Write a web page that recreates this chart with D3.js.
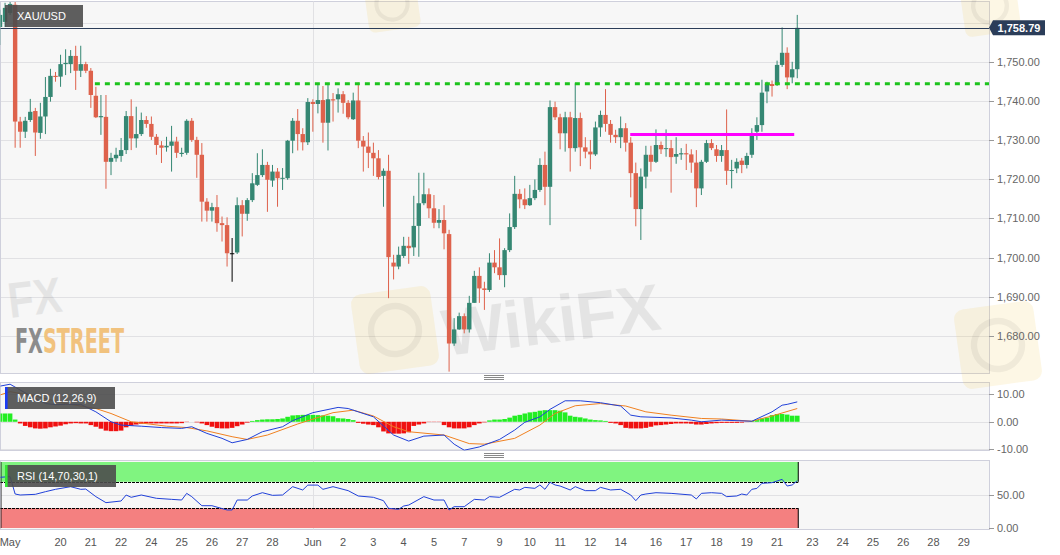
<!DOCTYPE html>
<html><head><meta charset="utf-8">
<script src="https://cdn.jsdelivr.net/npm/d3@7"></script>
<style>
html,body{margin:0;padding:0;background:#fff;}
svg{display:block;font-family:"Liberation Sans",Arial,sans-serif;}
</style></head><body>
<svg id="chart" width="1060" height="555"></svg>
<script>
// ---------------- DATA ----------------
const symbol = "XAU/USD";
const opens = [1759.0,1760.3,1762.6,1764.7,1734.8,1732.2,1735.2,1737.5,1731.9,1736.1,1741.1,1746.5,1746.3,1749.5,1749.5,1751.6,1747.8,1749.5,1747.8,1741.4,
1735.9,1736.0,1724.5,1725.4,1726.0,1727.5,1736.2,1730.5,1731.6,1735.2,1734.2,1730.9,1728.7,1728.2,1728.6,1729.7,1726.5,1726.8,1735.0,1730.1,
1726.3,1714.3,1712.0,1712.9,1708.8,1708.3,1701.1,1701.3,1713.4,1711.2,1714.7,1718.6,1721.1,1723.7,1719.7,1722.0,1720.3,1720.3,1729.9,1735.0,
1731.6,1729.5,1739.8,1739.3,1740.3,1734.5,1740.5,1740.5,1741.8,1739.6,1735.4,1740.2,1729.9,1728.4,1726.8,1725.4,1720.9,1722.2,1698.7,1697.7,
1700.4,1703.0,1702.6,1708.1,1713.9,1716.2,1712.6,1708.9,1709.6,1706.0,1678.0,1681.6,1685.0,1681.6,1688.4,1695.3,1692.1,1691.7,1698.7,1697.5,
1695.5,1701.9,1707.8,1716.3,1714.9,1713.4,1715.2,1717.3,1723.7,1718.1,1738.5,1735.9,1731.8,1735.9,1728.0,1735.7,1728.2,1727.1,1726.4,1733.3,
1736.5,1734.2,1731.4,1730.8,1733.1,1729.4,1721.6,1712.4,1720.7,1726.3,1724.5,1728.8,1727.8,1728.0,1725.8,1726.4,1726.7,1726.4,1724.3,1717.7,
1724.5,1729.3,1727.7,1726.0,1727.5,1722.2,1722.8,1724.8,1723.7,1726.3,1732.2,1733.9,1742.5,1744.4,1744.4,1749.3,1752.4,1746.1,1748.2];
const highs = [1763.4,1765.2,1765.4,1765.4,1736.0,1736.0,1740.6,1738.3,1739.6,1746.2,1748.3,1747.5,1751.9,1753.3,1753.1,1754.2,1754.2,1750.1,1748.5,1743.7,
1741.6,1741.6,1726.8,1728.1,1730.6,1737.5,1740.5,1738.6,1737.1,1736.2,1736.1,1731.6,1729.8,1730.9,1733.7,1730.9,1728.1,1735.4,1735.7,1730.9,
1729.3,1715.2,1714.0,1716.0,1710.5,1710.3,1705.0,1715.4,1714.7,1715.2,1721.6,1726.7,1727.7,1724.5,1723.7,1722.9,1722.9,1730.1,1735.7,1738.0,
1733.1,1740.8,1740.5,1744.6,1743.9,1744.4,1742.1,1743.3,1742.6,1740.3,1742.2,1744.8,1731.1,1732.0,1729.4,1727.5,1722.8,1726.3,1700.7,1702.8,
1705.3,1705.3,1715.8,1721.7,1721.7,1717.7,1716.0,1712.4,1713.4,1707.1,1684.5,1685.9,1685.7,1690.2,1696.6,1697.5,1693.8,1701.1,1701.9,1704.9,
1702.4,1711.3,1720.9,1717.5,1717.7,1718.6,1720.0,1725.4,1727.1,1740.2,1739.9,1736.8,1737.3,1737.3,1744.6,1737.1,1730.8,1730.1,1734.8,1737.6,
1743.1,1735.2,1732.7,1736.1,1734.4,1730.8,1724.3,1722.8,1728.6,1728.6,1732.8,1729.7,1732.8,1730.1,1730.8,1728.0,1729.1,1727.7,1727.5,1725.0,
1730.1,1730.3,1728.8,1728.8,1737.9,1725.0,1725.4,1725.5,1726.8,1733.1,1735.9,1745.5,1745.0,1745.3,1750.4,1758.9,1753.8,1750.1,1762.1];
const lows = [1754.4,1759.0,1762.1,1728.1,1728.1,1730.6,1734.7,1726.0,1730.4,1731.6,1739.9,1745.0,1743.7,1746.7,1747.2,1742.9,1746.2,1747.2,1738.3,1735.7,
1731.4,1717.6,1721.1,1724.5,1724.5,1726.5,1727.5,1728.1,1731.1,1733.2,1730.1,1726.3,1724.2,1727.1,1722.0,1725.5,1725.8,1726.3,1729.6,1720.4,
1709.2,1709.2,1709.2,1706.6,1704.1,1697.7,1693.8,1700.9,1705.4,1709.4,1714.2,1718.3,1720.6,1711.7,1718.1,1713.0,1717.3,1719.9,1726.7,1727.4,
1727.4,1728.8,1732.2,1736.9,1729.4,1727.4,1734.8,1737.1,1736.8,1735.4,1735.2,1728.0,1722.0,1722.9,1720.9,1720.0,1713.0,1689.6,1694.4,1697.0,
1699.9,1698.4,1700.4,1700.2,1713.4,1710.1,1707.5,1707.5,1702.1,1670.8,1677.4,1681.5,1680.6,1680.8,1688.4,1688.4,1686.6,1691.2,1696.0,1694.3,
1692.4,1701.4,1707.3,1712.6,1712.4,1713.2,1714.7,1716.8,1713.4,1708.3,1735.2,1727.7,1727.1,1722.0,1727.1,1723.4,1725.4,1722.6,1726.0,1730.9,
1732.2,1729.4,1729.3,1728.0,1727.1,1715.4,1708.0,1704.5,1717.7,1722.0,1724.2,1726.5,1725.8,1716.6,1724.0,1725.0,1722.4,1721.7,1712.9,1716.0,
1724.2,1727.5,1724.5,1724.5,1718.6,1717.7,1721.6,1721.6,1722.8,1725.5,1730.1,1732.2,1739.5,1741.2,1743.9,1748.8,1743.1,1744.6,1745.9];
const closes = [1762.1,1763.9,1764.9,1734.8,1732.2,1735.0,1737.3,1732.0,1736.1,1741.1,1746.5,1746.2,1749.5,1749.8,1751.6,1747.8,1749.5,1747.8,1741.6,1735.9,
1736.2,1724.5,1725.5,1726.3,1727.5,1736.2,1730.5,1731.6,1735.2,1734.2,1730.9,1728.8,1728.1,1728.6,1729.7,1726.8,1726.8,1735.0,1730.1,1726.3,
1714.3,1712.0,1712.9,1708.8,1708.3,1701.1,1701.1,1713.4,1711.2,1714.7,1719.0,1721.1,1723.7,1719.9,1722.0,1720.3,1720.4,1729.9,1735.0,1731.6,
1729.5,1739.8,1739.3,1740.3,1734.5,1740.5,1740.2,1741.8,1739.6,1735.9,1740.2,1729.9,1728.4,1726.8,1725.4,1720.6,1722.2,1700.1,1697.7,1700.7,
1703.0,1702.4,1708.1,1713.9,1716.2,1712.6,1708.9,1709.6,1706.2,1678.0,1681.6,1685.0,1681.6,1688.4,1695.3,1692.1,1691.7,1698.7,1697.5,1695.5,
1701.9,1707.8,1716.3,1714.9,1713.4,1715.2,1717.3,1723.7,1718.1,1738.5,1735.9,1731.8,1735.9,1728.0,1735.7,1728.2,1727.1,1726.4,1733.3,1736.5,
1734.2,1731.4,1730.8,1733.1,1729.4,1721.6,1712.4,1720.7,1726.3,1724.5,1728.8,1727.7,1728.0,1725.7,1726.5,1726.7,1726.4,1724.3,1717.7,1724.5,
1729.3,1728.0,1726.0,1727.5,1722.2,1722.4,1724.5,1723.7,1726.0,1731.1,1733.9,1742.2,1744.4,1743.9,1749.3,1752.4,1746.1,1748.2,1758.79];

// MACD (12,26,9): histogram per candle, lines read at candle indices
const macdHist = [3.0,3.0,3.0,0.8,-0.6,-1.5,-2.0,-2.4,-2.5,-2.4,-2.0,-1.7,-1.4,-0.9,-0.6,-0.5,-0.6,-0.6,-1.2,-1.8,
-2.5,-3.2,-3.4,-3.4,-3.2,-2.0,-1.4,-1.0,-0.7,-0.6,-0.6,-0.6,-0.6,-0.6,-0.6,-0.6,-0.5,-0.1,0.0,-0.2,
-0.6,-1.2,-1.8,-2.3,-2.4,-2.4,-2.2,-1.6,-1.0,-0.3,0.3,0.6,0.8,0.9,0.9,1.0,1.2,1.8,2.3,2.4,
2.5,2.5,2.5,2.4,2.3,2.2,2.0,1.3,1.2,1.0,0.6,-0.4,-0.7,-1.0,-1.2,-2.0,-3.5,-4.2,-4.3,-4.3,
-4.2,-3.8,-1.5,-1.0,-0.6,-0.1,-0.1,-0.1,-1.2,-2.0,-2.4,-2.4,-2.4,-2.0,-1.2,-0.6,-0.2,0.5,0.8,0.8,
1.0,1.5,2.2,2.5,3.0,3.4,3.6,4.0,4.2,4.2,4.2,4.0,3.4,2.2,1.8,1.6,1.2,0.8,0.6,0.5,
0.3,-0.4,-0.6,-1.2,-2.2,-2.4,-2.4,-2.4,-2.2,-1.8,-1.3,-1.2,-1.0,-0.8,-0.6,-0.6,-0.6,-0.7,-1.0,-1.0,
-0.8,-0.6,-0.5,-0.4,-0.4,-0.4,-0.4,-0.3,-0.1,0.3,0.6,1.2,1.5,2.4,2.8,2.8,2.6,2.2,2.2];
const macdIdx = [0,2,4,7,9,11,13,16,19,22,24,28,32,36,38,41,44,46,49,52,56,58,62,67,69,71,74,76,78,81,84,88,90,92,95,99,102,104,107,109,112,115,119,123,125,127,133,137,139,143,149,153,155,156,158];
const macdVal = [12.9,13.6,11.5,8.5,6.6,6.2,6.3,6.3,3.6,0,-1.2,-1.6,-2.1,-2.4,-1.8,-4.2,-6.0,-7.6,-6.4,-3.6,-1.8,0.4,3.3,5.2,4.8,3.6,1.8,-1.5,-4.8,-7.0,-5.2,-4.8,-8.1,-10.3,-9.1,-6.4,-3.0,-0.2,1.8,4.5,7.6,7.6,6.9,5.7,2.4,1.8,1.4,0.6,0,0.6,0.2,3.6,6.0,6.3,7.2];
const signalIdx = [0,2,7,13,19,22,26,33,37,41,46,49,53,59,66,70,74,78,81,88,93,96,102,107,110,114,119,124,128,133,139,143,149,153,158];
const signalVal = [9.7,10.9,9.3,6.6,4.8,3.0,0,-1.6,-2.1,-3.3,-5.4,-6.4,-4.8,-0.8,3.3,4.2,2.1,-1.8,-3.6,-4.8,-7.9,-8.1,-6.0,-1.2,3.0,5.8,6.6,5.7,3.6,2.4,1.2,1.0,0.2,2.1,4.8];

// RSI (14,70,30,1) read at candle indices
const rsiIdx = [0,2,3,4,7,9,11,14,16,17,19,21,24,25,26,28,31,34,36,37,38,40,42,45,46,47,49,50,52,54,56,58,60,61,63,64,66,69,71,74,76,77,79,80,81,84,86,88,89,90,92,94,96,97,99,102,103,104,106,107,108,109,110,111,113,114,116,118,119,121,123,125,126,127,128,130,133,137,138,139,141,143,144,146,147,148,149,150,151,153,155,156,157,158];
const rsiVal = [76.8,77.8,51.5,50,51,55,58.6,62.6,58.6,59,47.5,38.4,40.9,50,46.5,50,45,43.4,42.4,52.5,47.5,33.8,33.8,27.3,27.3,42.4,42.4,48.5,53.5,49.5,50,62.6,57.6,65,65,58.6,62.6,56.6,48.5,46.5,41.4,29.8,28.3,33.3,34.8,47.5,42.4,42.4,27.3,32.3,32.3,43.4,42.4,47.5,46.5,58.6,57.6,61.6,60.1,65.2,58.6,69.2,65.2,63.6,57.6,62.6,56.6,56.6,61.6,57.6,58.6,50,41.4,50,51.5,53.5,52.5,50,44,52.5,53.5,52.5,47.5,48.5,51.5,50,58.6,60,67.7,68.7,73.7,63.6,65.2,71.7];
const rsiUpper = 70, rsiLower = 30;

// Axis ticks
const priceTicks = [1680,1690,1700,1710,1720,1730,1740,1750,1760];
const macdTicks = [-10,0,10];
const rsiTicks = [0,50];
const xLabels = ["May","20","21","22","24","25","26","27","28","Jun","2","3","4","5","7","9","10","11","12","14","16","17","18","19","21","23","24","25","26","28","29"];
const xLabelIdx = [2,12,18,24,30,36,42,48,54,62,68,74,80,86,92,99,105,111,117,123,130,136,142,148,154,161,167,173,179,185,191];
const monthStartIdx = [62];

// Drawn levels
const levelValues = [1744.5, 1731.5];
const levelStartIdx = [18.8, 124.9];
const levelEndIdx = [196, 157.4];

// ---------------- CHART ----------------
const svg = d3.select("#chart");
const PR = 989;
const P = { main:{top:1.5,bottom:373.5}, macd:{top:382.5,bottom:450.5}, rsi:{top:460.5,bottom:529.5} };
const x = d3.scaleLinear().domain([0,196]).range([0,989]);
const yMain = d3.scaleLinear().domain([1670.45,1765.4]).range([373,2]);
const yMacd = d3.scaleLinear().domain([-10.4,14.4]).range([450.5,382]);
const yRsi = d3.scaleLinear().domain([0,100]).range([528,462]);
const BULL="#358773", BEAR="#de624c";
const n = closes.length;

svg.append("rect").attr("width",1060).attr("height",555).attr("fill","#fff");
const defs = svg.append("defs");
Object.entries(P).forEach(([k,p])=>{
  defs.append("clipPath").attr("id","clip-"+k).append("rect")
    .attr("x",0.5).attr("y",p.top).attr("width",PR-0.5).attr("height",p.bottom-p.top);
  svg.append("rect").attr("x",0.5).attr("y",p.top).attr("width",PR).attr("height",p.bottom-p.top)
    .attr("fill","#f7f7f7").attr("stroke","#cfd0dc");
});
const crisp = v => Math.round(v)+0.5;

function hgrid(ticks, scale){
  svg.append("g").selectAll("line").data(ticks).join("line")
    .attr("x1",1).attr("x2",PR).attr("y1",d=>crisp(scale(d))).attr("y2",d=>crisp(scale(d)))
    .attr("stroke","#e1e1e4");
}
hgrid(priceTicks,yMain); hgrid(macdTicks,yMacd); hgrid([50],yRsi);
Object.values(P).forEach(p=>{
  svg.append("g").selectAll("line").data(monthStartIdx).join("line")
    .attr("x1",d=>crisp(x(d))).attr("x2",d=>crisp(x(d))).attr("y1",p.top).attr("y2",p.bottom)
    .attr("stroke","#e1e1e4");
});

// ---- watermarks (under the marks, faint)
const wm = svg.append("g").attr("pointer-events","none");
function logo(cx,cy,s){
  const g = wm.append("g").attr("transform",`translate(${cx},${cy}) rotate(-8)`);
  g.append("rect").attr("x",-s/2).attr("y",-s/2).attr("width",s).attr("height",s).attr("rx",s*0.12)
    .attr("fill","#f2c44a").attr("opacity",0.14);
  g.append("circle").attr("r",s*0.3).attr("fill","none").attr("stroke","#000").attr("stroke-width",s*0.08).attr("opacity",0.05);
}
logo(395,330,80); logo(998,345,80); logo(392,4,52); logo(990,6,56);
wm.append("text").attr("transform","translate(445,356) rotate(-7)")
  .attr("font-size",66).attr("font-weight","bold").attr("fill","#000").attr("opacity",0.07).text("WikiFX");
wm.append("text").attr("transform","translate(10,318) rotate(-7)").attr("textLength",54).attr("lengthAdjust","spacingAndGlyphs")
  .attr("font-size",50).attr("font-weight","bold").attr("fill","#000").attr("opacity",0.07).text("FX");

// ---- main candles
const gMain = svg.append("g").attr("clip-path","url(#clip-main)");
const idx = d3.range(n);
const col = i => closes[i]>opens[i]?BULL:(closes[i]<opens[i]?BEAR:"#000");
gMain.selectAll("rect.w").data(idx).join("rect").attr("class","w")
  .attr("x",i=>x(i)-0.5).attr("width",1)
  .attr("y",i=>yMain(highs[i])).attr("height",i=>Math.max(1,yMain(lows[i])-yMain(highs[i])))
  .attr("fill",col);
gMain.selectAll("rect.b").data(idx).join("rect").attr("class","b")
  .attr("x",i=>x(i)-2.2).attr("width",4.4)
  .attr("y",i=>yMain(Math.max(opens[i],closes[i])))
  .attr("height",i=>Math.max(1,Math.abs(yMain(opens[i])-yMain(closes[i]))))
  .attr("fill",col);

levelValues.forEach((v,k)=>{
  gMain.append("line").attr("x1",x(levelStartIdx[k])).attr("x2",x(levelEndIdx[k]))
    .attr("y1",yMain(v)).attr("y2",yMain(v))
    .attr("stroke",k===0?"#1dc41d":"#ff00ff").attr("stroke-width",3)
    .attr("stroke-dasharray",k===0?"5,5":null);
});
const last = closes[n-1];
gMain.append("line").attr("x1",0).attr("x2",PR).attr("y1",crisp(yMain(last))).attr("y2",crisp(yMain(last)))
  .attr("stroke","#2b3d59").attr("stroke-width",1);

// FXStreet logo (single text, two colours)
const fxs = svg.append("text").attr("x",15).attr("y",352.5)
  .attr("font-family","'DejaVu Sans Condensed','DejaVu Sans',sans-serif")
  .attr("font-weight","bold").attr("font-size",33).attr("textLength",109).attr("lengthAdjust","spacingAndGlyphs");
fxs.append("tspan").attr("fill","#8c8c8c").text("FX");
fxs.append("tspan").attr("fill","#f1c27e").text("STREET");

// ---- MACD
const gMacd = svg.append("g").attr("clip-path","url(#clip-macd)");
gMacd.selectAll("rect").data(idx).join("rect")
  .attr("x",i=>x(i)-2.3).attr("width",4.6)
  .attr("y",i=>Math.min(yMacd(0),yMacd(macdHist[i])))
  .attr("height",i=>Math.abs(yMacd(macdHist[i])-yMacd(0)))
  .attr("fill",i=>macdHist[i]>=0?"#22ee22":"#f01010");
const lineGen = d3.line().x(d=>x(d[0]));
gMacd.append("path").datum(signalIdx.map((d,i)=>[d,signalVal[i]]))
  .attr("d",lineGen.y(d=>yMacd(d[1]))).attr("fill","none").attr("stroke","#f08020").attr("stroke-width",1);
gMacd.append("path").datum(macdIdx.map((d,i)=>[d,macdVal[i]]))
  .attr("d",lineGen.y(d=>yMacd(d[1]))).attr("fill","none").attr("stroke","#2040d8").attr("stroke-width",1);

// ---- RSI
const gRsi = svg.append("g").attr("clip-path","url(#clip-rsi)");
const bandEnd = x(n-1)+1;
gRsi.append("rect").attr("x",0).attr("width",bandEnd).attr("y",yRsi(100)).attr("height",yRsi(rsiUpper)-yRsi(100)).attr("fill","#80f480");
gRsi.append("rect").attr("x",0).attr("width",bandEnd).attr("y",yRsi(rsiLower)).attr("height",yRsi(0)-yRsi(rsiLower)).attr("fill","#f48080");
[rsiUpper,rsiLower].forEach(v=>{
  gRsi.append("line").attr("x1",0).attr("x2",bandEnd).attr("y1",crisp(yRsi(v))).attr("y2",crisp(yRsi(v)))
    .attr("stroke","#000").attr("stroke-dasharray","3,1");
});
gRsi.append("line").attr("x1",1).attr("x2",1).attr("y1",yRsi(100)).attr("y2",yRsi(0)).attr("stroke","#222");
[[100,rsiUpper],[rsiLower,0]].forEach(([a,b])=>{
  gRsi.append("line").attr("x1",bandEnd).attr("x2",bandEnd).attr("y1",yRsi(a)).attr("y2",yRsi(b)).attr("stroke","#000");
});
gRsi.append("path").datum(rsiIdx.map((d,i)=>[d,rsiVal[i]]))
  .attr("d",d3.line().x(d=>x(d[0])).y(d=>yRsi(d[1]))).attr("fill","none").attr("stroke","#2040d8").attr("stroke-width",1);

// ---- title boxes
function titleBox(y,w,label,strip){
  svg.append("rect").attr("x",5).attr("y",y).attr("width",w).attr("height",22).attr("fill","#4d4d4d").attr("opacity",0.9);
  if(strip) svg.append("rect").attr("x",5).attr("y",y).attr("width",2.6).attr("height",22).attr("fill",strip);
  svg.append("text").attr("x",17).attr("y",y+15.3).attr("fill","#fff").attr("font-size",11).text(label);
}
titleBox(5,78,symbol,null);
titleBox(387,110,"MACD (12,26,9)","#1b3cf5");
titleBox(465,111,"RSI (14,70,30,1)","#33e633");

// ---- right axes
function raxis(ticks,scale,fmt){
  const g = svg.append("g");
  g.selectAll("line").data(ticks).join("line").attr("x1",PR).attr("x2",PR+5)
    .attr("y1",d=>crisp(scale(d))).attr("y2",d=>crisp(scale(d))).attr("stroke","#999");
  g.selectAll("text").data(ticks).join("text").attr("x",997).attr("y",d=>scale(d)+4)
    .attr("font-size",11).attr("fill","#666").text(fmt);
}
raxis(priceTicks.filter(v=>Math.abs(v-closes[n-1])>3),yMain,d3.format(",.2f"));
raxis(macdTicks,yMacd,d=>d.toFixed(2));
raxis(rsiTicks,yRsi,d=>d.toFixed(2));

// last price tag
const ly = yMain(last);
svg.append("path").attr("d",`M${PR},${ly} L${PR+4},${ly-7.5} L1045,${ly-7.5} L1045,${ly+7.5} L${PR+4},${ly+7.5} Z`).attr("fill","#2b3d59");
svg.append("text").attr("x",1019).attr("y",ly+4).attr("text-anchor","middle").attr("font-size",11)
  .attr("font-weight","bold").attr("fill","#fff").text(d3.format(",.2f")(last));

// ---- x axis labels
svg.append("g").selectAll("text").data(xLabels).join("text")
  .attr("x",(d,i)=>x(xLabelIdx[i])).attr("y",546).attr("text-anchor","middle")
  .attr("font-size",11).attr("fill","#555").text(d=>d);

// ---- pane handles
[377.5,455.5].forEach(cy=>{
  [-2,0,2].forEach(o=>{
    svg.append("line").attr("x1",484).attr("x2",504).attr("y1",cy+o).attr("y2",cy+o).attr("stroke","#888");
  });
});
</script>
</body></html>
